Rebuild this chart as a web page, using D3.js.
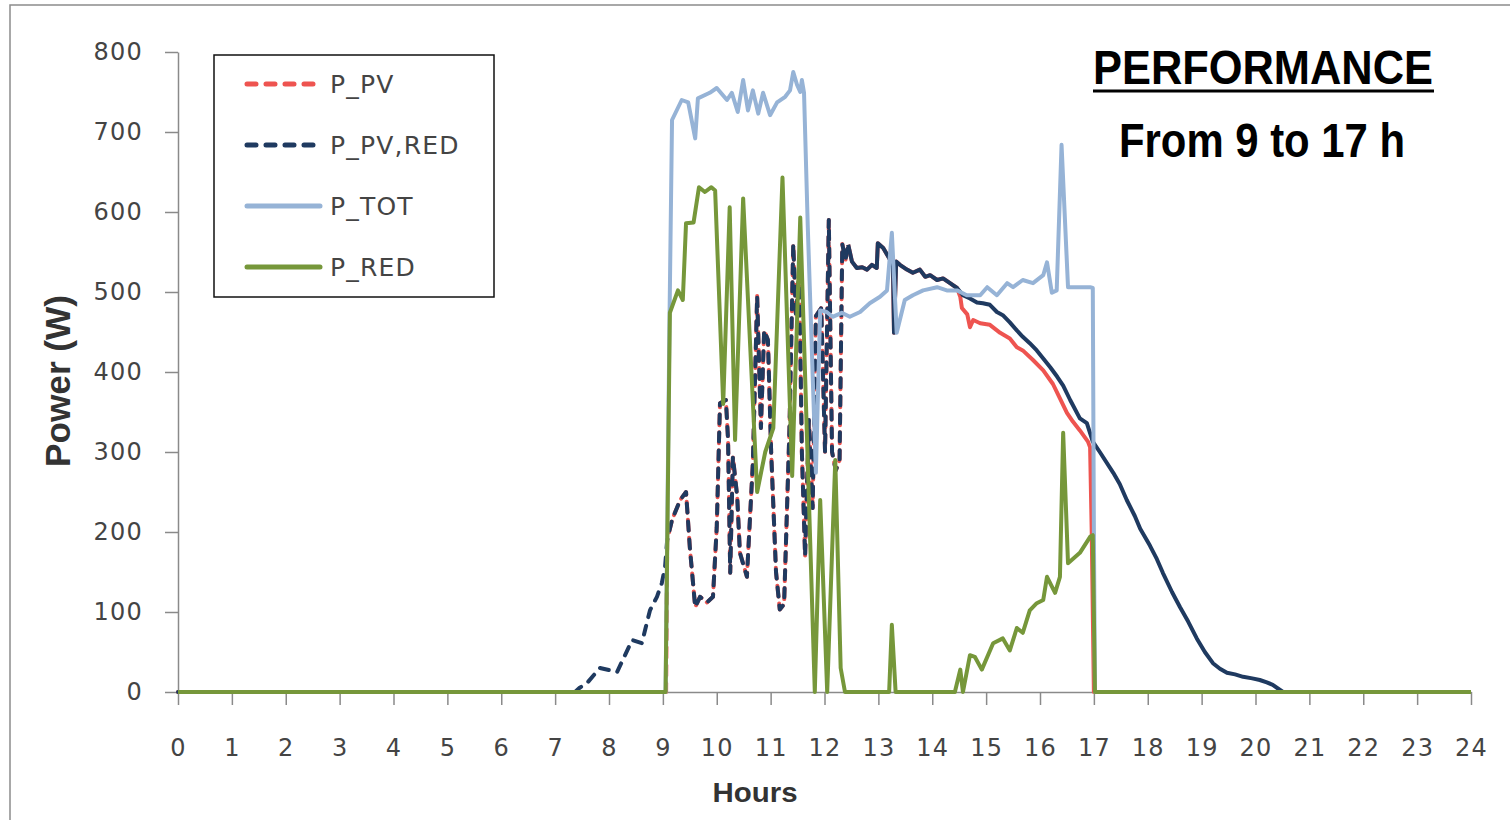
<!DOCTYPE html>
<html>
<head>
<meta charset="utf-8">
<script src="https://cdn.jsdelivr.net/npm/d3@7"></script>
<style>
  html, body { margin: 0; padding: 0; background: #fff; }
  svg { display: block; }
</style>
</head>
<body>
<svg id="chart" width="1510" height="820"></svg>
<script>
// ---- data: [hour, power in W] ----
const xTickValues = d3.range(0, 25);
const yTickValues = [0, 100, 200, 300, 400, 500, 600, 700, 800];

const pPV = [
  [0,0],[9.06,0],[9.08,190],[9.17,215],[9.32,240],[9.43,250],[9.5,181],[9.6,106],[9.69,119],[9.82,112],
  [9.93,119],[10.0,206],[10.06,361],[10.17,365],[10.21,315],[10.25,149],[10.3,294],[10.38,244],[10.43,174],
  [10.56,144],[10.67,286],[10.75,495],[10.82,330],[10.88,452],[10.95,440],[11.01,300],[11.1,150],[11.17,103],
  [11.25,110],[11.35,330],[11.42,560],[11.47,470],[11.53,525],[11.58,300],[11.64,170],[11.71,340],[11.78,230],
  [11.84,470],[11.94,480],[12.01,300],[12.08,590],[12.14,300],[12.21,277],[12.28,290],[12.33,560],[12.39,540],
  [12.44,559],[12.51,538],[12.6,530],[12.7,531],[12.79,528],[12.88,534],[12.97,530],[12.99,561],[13.09,555],
  [13.22,540],[13.27,538],[13.29,449],[13.33,538],[13.4,534],[13.53,528],[13.64,524],[13.77,528],[13.87,519],
  [13.96,521],[14.09,515],[14.2,517],[14.33,511],[14.46,505],[14.52,494],[14.55,480],[14.65,472],[14.7,456],
  [14.76,465],[14.89,461],[15.07,459],[15.26,449],[15.44,442],[15.57,431],[15.68,427],[15.87,415],[16.06,402],
  [16.24,385],[16.37,367],[16.5,349],[16.61,338],[16.74,327],[16.89,313],[16.93,306],[16.96,200],[17.0,0],[24,0]
];

const pPVRed = [
  [0,0],[7.37,0],[7.45,5],[7.59,11],[7.83,30],[8.15,25],[8.43,65],[8.61,61],[8.76,102],[8.89,119],[8.98,136],
  [9.04,156],[9.08,190],[9.17,215],[9.32,240],[9.43,250],[9.5,181],[9.6,106],[9.69,119],[9.82,112],
  [9.93,119],[10.0,206],[10.06,361],[10.17,365],[10.21,315],[10.25,149],[10.3,294],[10.38,244],[10.43,174],
  [10.56,144],[10.67,286],[10.75,495],[10.82,330],[10.88,452],[10.95,440],[11.01,300],[11.1,150],[11.17,103],
  [11.25,110],[11.35,330],[11.42,560],[11.47,470],[11.53,525],[11.58,300],[11.64,170],[11.71,340],[11.78,230],
  [11.84,470],[11.94,480],[12.01,300],[12.08,590],[12.14,300],[12.21,277],[12.28,290],[12.33,560],[12.39,540],
  [12.44,559],[12.51,538],[12.6,530],[12.7,531],[12.79,528],[12.88,534],[12.97,530],[12.99,561],[13.09,555],
  [13.22,540],[13.27,538],[13.29,449],[13.33,538],[13.4,534],[13.53,528],[13.64,524],[13.77,528],[13.87,519],
  [13.96,521],[14.09,515],[14.2,517],[14.33,511],[14.46,505],[14.57,496],[14.7,492],[14.83,487],[14.94,486],
  [15.07,484],[15.2,475],[15.31,471],[15.44,462],[15.57,452],[15.68,444],[15.81,436],[15.94,427],[16.06,417],
  [16.19,406],[16.32,394],[16.43,383],[16.56,365],[16.74,342],[16.87,336],[16.98,313],[17.11,300],[17.36,274],
  [17.48,260],[17.61,240],[17.76,220],[17.86,204],[18.04,183],[18.17,166],[18.28,149],[18.45,125],[18.6,106],
  [18.75,88],[18.91,67],[19.06,50],[19.21,36],[19.34,29],[19.47,24],[19.62,22],[19.77,19],[19.94,17],
  [20.08,15],[20.21,12],[20.32,9],[20.51,0],[24,0]
];

const pTot = [
  [0,0],[9.05,0],[9.12,450],[9.17,715],[9.35,740],[9.47,737],[9.6,692],[9.65,742],[9.87,749],[10.0,755],
  [10.19,740],[10.28,749],[10.39,725],[10.49,765],[10.58,727],[10.67,752],[10.77,723],[10.86,749],[10.99,721],
  [11.12,737],[11.27,744],[11.36,752],[11.42,775],[11.49,759],[11.55,750],[11.58,765],[11.62,749],[11.69,581],
  [11.84,274],[11.92,477],[12.04,475],[12.15,469],[12.32,474],[12.47,469],[12.66,475],[12.84,486],[13.03,494],
  [13.16,502],[13.25,574],[13.34,449],[13.49,490],[13.64,496],[13.83,502],[14.09,506],[14.27,502],[14.46,502],
  [14.64,496],[14.89,496],[15.02,506],[15.2,496],[15.39,511],[15.5,506],[15.68,515],[15.87,511],[16.06,521],
  [16.13,537],[16.22,499],[16.31,502],[16.4,684],[16.52,506],[16.93,506],[16.98,505],[17.0,202],[17.02,0],[24,0]
];

const pRed = [
  [0,0],[9.05,0],[9.13,474],[9.28,502],[9.37,490],[9.43,586],[9.57,587],[9.67,631],[9.78,625],[9.9,631],
  [9.97,627],[10.12,360],[10.24,606],[10.34,315],[10.49,617],[10.75,250],[10.9,300],[11.05,330],[11.22,643],
  [11.4,270],[11.55,593],[11.82,0],[11.92,240],[12.05,0],[12.2,290],[12.3,30],[12.38,0],[13.2,0],[13.25,84],
  [13.32,0],[14.42,0],[14.52,28],[14.57,0],[14.7,46],[14.79,44],[14.92,28],[15.13,61],[15.31,67],[15.44,52],
  [15.57,80],[15.68,74],[15.81,102],[15.94,111],[16.06,115],[16.13,144],[16.28,124],[16.37,144],[16.43,324],
  [16.52,161],[16.74,174],[16.93,194],[16.98,196],[17.02,0],[24,0]
];

// ---- style ----
const DASHED_UNTIL = 12.44;   // sparse section drawn dashed, dense section solid
const series = [
  { name: "P_PV",     data: pPV,    color: "#EE5450", dash: "11,7" },
  { name: "P_PV,RED", data: pPVRed, color: "#1F3A60", dash: "9,9" },
  { name: "P_TOT",    data: pTot,   color: "#96B3D6", dash: null },
  { name: "P_RED",    data: pRed,   color: "#76973A", dash: null }
];

const svg = d3.select("#chart");
const plot = { left: 178, right: 1471, top: 52, bottom: 692 };

const x = d3.scaleLinear().domain([0, 24]).range([plot.left, plot.right]);
const y = d3.scaleLinear().domain([0, 800]).range([plot.bottom, plot.top]);

// outer frame
svg.append("rect")
  .attr("x", 10).attr("y", 5).attr("width", 1520).attr("height", 840)
  .attr("fill", "none").attr("stroke", "#8c8c8c").attr("stroke-width", 1.5);

const tickFont = "'DejaVu Sans', sans-serif";

// y axis
const yAxis = svg.append("g")
  .attr("transform", `translate(${plot.left},0)`)
  .call(d3.axisLeft(y).tickValues(yTickValues).tickSize(13).tickPadding(22).tickSizeOuter(0));
// x axis
const xAxis = svg.append("g")
  .attr("transform", `translate(0,${plot.bottom})`)
  .call(d3.axisBottom(x).tickValues(xTickValues).tickFormat(d3.format("d")).tickSize(13).tickPadding(34).tickSizeOuter(0));

[yAxis, xAxis].forEach(g => {
  g.select(".domain").attr("stroke", "#8a8a8a").attr("stroke-width", 1.5);
  g.selectAll(".tick line").attr("stroke", "#8a8a8a").attr("stroke-width", 1.5);
  g.selectAll(".tick text")
    .attr("fill", "#444").style("font-family", tickFont).style("font-size", "24px")
    .style("letter-spacing", "1.2px");
});

// axis titles
svg.append("text")
  .attr("transform", `translate(70,381) rotate(-90)`)
  .attr("text-anchor", "middle")
  .attr("textLength", 172).attr("lengthAdjust", "spacingAndGlyphs")
  .style("font-family", "'Liberation Sans', Arial, sans-serif")
  .style("font-weight", "bold").style("font-size", "35px").attr("fill", "#333")
  .text("Power (W)");

svg.append("text")
  .attr("x", 755).attr("y", 802)
  .attr("text-anchor", "middle")
  .attr("textLength", 85).attr("lengthAdjust", "spacingAndGlyphs")
  .style("font-family", "'Liberation Sans', Arial, sans-serif")
  .style("font-weight", "bold").style("font-size", "28px").attr("fill", "#333")
  .text("Hours");

// series lines
const line = d3.line().x(d => x(d[0])).y(d => y(d[1]));
const lines = svg.append("g").attr("fill", "none").attr("stroke-width", 4)
  .attr("stroke-linejoin", "round");

series.forEach(s => {
  if (s.dash) {
    const early = s.data.filter(d => d[0] <= DASHED_UNTIL);
    const late = s.data.filter(d => d[0] >= DASHED_UNTIL);
    lines.append("path").attr("d", line(early)).attr("stroke", s.color)
      .attr("stroke-dasharray", s.dash).attr("stroke-linecap", "round");
    lines.append("path").attr("d", line(late)).attr("stroke", s.color);
  } else {
    lines.append("path").attr("d", line(s.data)).attr("stroke", s.color);
  }
});

// legend
const legend = svg.append("g");
legend.append("rect")
  .attr("x", 214).attr("y", 55).attr("width", 280).attr("height", 242)
  .attr("fill", "#fff").attr("stroke", "#111").attr("stroke-width", 1.5);
const legendY = d3.scalePoint().domain(series.map(s => s.name)).range([84, 267]);
series.forEach(s => {
  const cy = legendY(s.name);
  legend.append("line")
    .attr("x1", 247).attr("x2", 320).attr("y1", cy).attr("y2", cy)
    .attr("stroke", s.color).attr("stroke-width", 5)
    .attr("stroke-linecap", "round")
    .attr("stroke-dasharray", s.dash ? "9,10" : null);
  legend.append("text")
    .attr("x", 330).attr("y", cy + 9)
    .style("font-family", tickFont).style("font-size", "25px")
    .style("letter-spacing", "1.2px").attr("fill", "#444")
    .text(s.name);
});

// heading
const heading = svg.append("g")
  .style("font-family", "'Liberation Sans', Arial, sans-serif")
  .style("font-weight", "bold").attr("fill", "#000");
heading.append("text")
  .attr("x", 1263).attr("y", 84).attr("text-anchor", "middle")
  .attr("textLength", 340).attr("lengthAdjust", "spacingAndGlyphs")
  .style("font-size", "49px")
  .text("PERFORMANCE");
heading.append("line")
  .attr("x1", 1093).attr("x2", 1434).attr("y1", 91).attr("y2", 91)
  .attr("stroke", "#000").attr("stroke-width", 3);
heading.append("text")
  .attr("x", 1262).attr("y", 157).attr("text-anchor", "middle")
  .attr("textLength", 286).attr("lengthAdjust", "spacingAndGlyphs")
  .style("font-size", "49px")
  .text("From 9 to 17 h");
</script>
</body>
</html>
